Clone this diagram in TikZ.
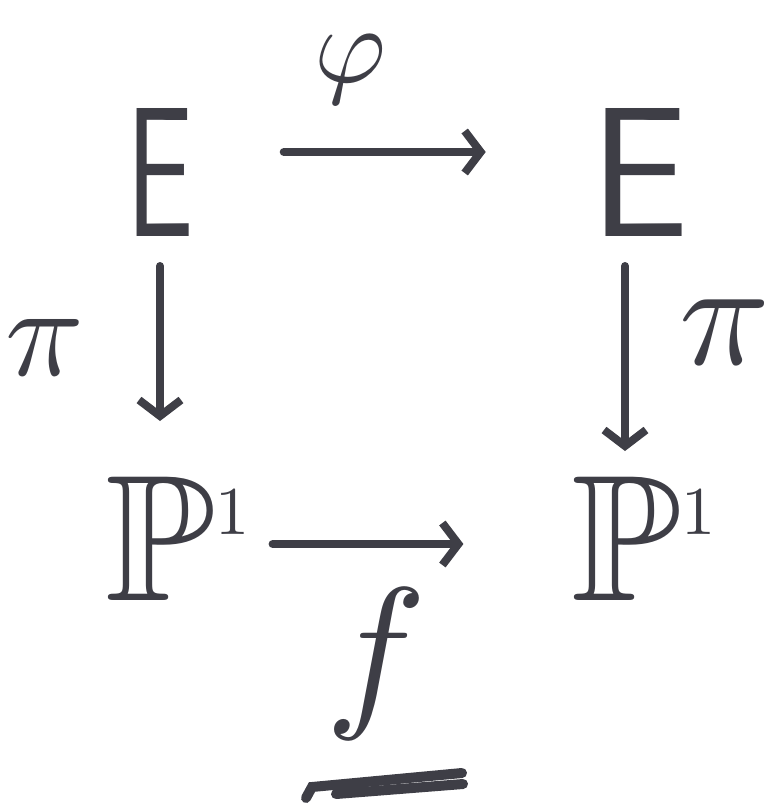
\documentclass[tikz,border=0pt]{standalone}
\usepackage{amssymb}
\usepackage{graphicx}
\usetikzlibrary{arrows.meta}
\definecolor{ink}{RGB}{62,62,70}
\newcommand{\Pone}{\scalebox{18}{$\mathbb{P}^{\scalebox{0.38}{$1$}}$}}
\begin{document}
\begin{tikzpicture}[x=1pt,y=-1pt,
  every node/.style={inner sep=0pt,outer sep=0pt,text=ink},
  obj/.style={font=\fontsize{185}{185}\selectfont\sffamily},
  arr/.style={draw=ink,line width=8pt,line cap=round,
    -{Straight Barb[length=16pt,width=42pt,line width=8pt]}},
  uline/.style={draw=ink,line width=10pt,line cap=round}]
\useasboundingbox (0,0) rectangle (778,806);
\node[obj] (E1) at (160,172) {\scalebox{0.65}[1]{E}};
\node[obj] (E2) at (640,172) {\scalebox{0.95}[1]{E}};
\node (P1) at (182,538) {\Pone};
\node (P2) at (648,538) {\Pone};
\node (phi) at (350,70) {\scalebox{11}{$\varphi$}};
\node (pi1) at (45,348) {\scalebox{13}{$\pi$}};
\node (pi2) at (725,332) {\scalebox{15}{$\pi$}};
\node (f) at (376,664) {\scalebox{17}{$f$}};
\draw[arr] ([yshift=20pt]E1.east) -- ([yshift=20pt]E2.west)
  [shorten <=90pt, shorten >=105pt];
\draw[arr,shorten <=30pt,shorten >=55pt] (E1.south) -- (E1.south |- P1.north);
\draw[arr,shorten <=30pt,shorten >=25pt] (E2.south -| 625,0) -- (625,0 |- P2.north);
\draw[arr,shorten <=14pt,shorten >=108pt] ([yshift=-6pt]P1.east) -- ([yshift=-6pt]P2.west);
\coordinate (u1) at (312,787);
\coordinate (u2) at (462,773);
\coordinate (u3) at (336,794);
\coordinate (u4) at (463,784);
\draw[uline] (306,798) -- (u1) -- (u2);
\draw[uline] (u3) -- (u4);
\end{tikzpicture}
\end{document}
